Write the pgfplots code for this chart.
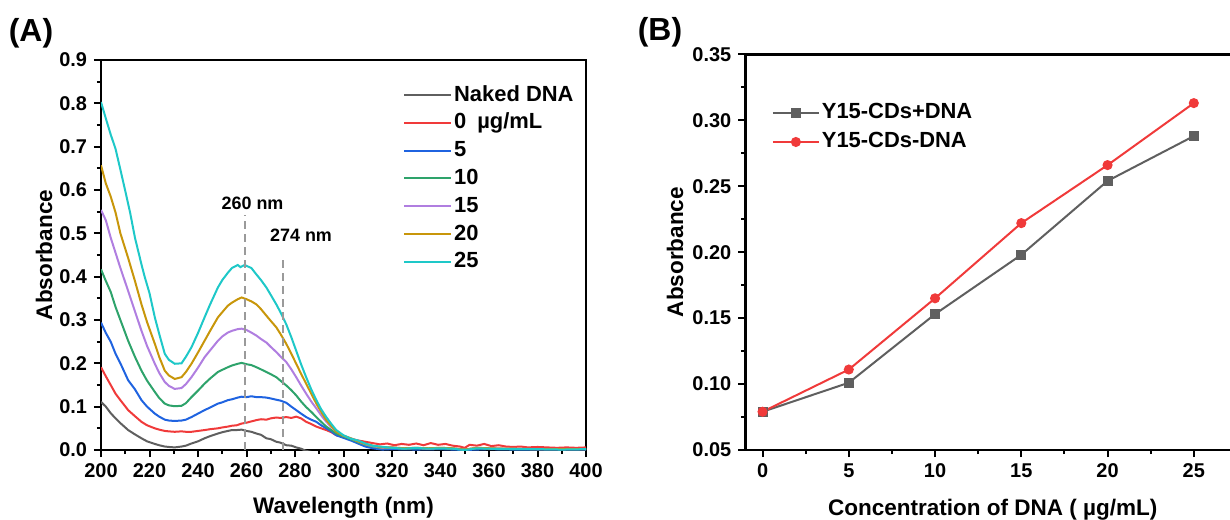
\documentclass[border=0pt]{standalone}
\usepackage{fontspec}
\setmainfont{Liberation Sans}
\usepackage{pgfplots}
\pgfplotsset{compat=1.18}

\definecolor{cGray}{HTML}{5F5F5F}
\definecolor{cRed}{HTML}{F03A3A}
\definecolor{cBlue}{HTML}{1F63E0}
\definecolor{cGreen}{HTML}{2EA36B}
\definecolor{cPurple}{HTML}{B07EE0}
\definecolor{cGold}{HTML}{C8960A}
\definecolor{cCyan}{HTML}{1EC8C8}
\definecolor{cDash}{HTML}{9A9A9A}

\pgfplotsset{
  myax/.style={
    scale only axis,
    axis line style={line width=1.25bp},
    every tick/.style={line width=1bp, black},
    tick align=outside,
    major tick length=3.5bp,
    minor tick length=2bp,
    tick pos=left,
    ticklabel style={font=\fontsize{10}{12}\selectfont\bfseries},
    label style={font=\fontsize{11.3}{13}\selectfont\bfseries},
    /pgf/number format/assume math mode=true,
  },
}

\begin{document}
\begin{tikzpicture}
\path[use as bounding box, clip] (0,0) rectangle (615bp,260bp);

\node[font=\fontsize{16}{18}\selectfont\bfseries] at (15.5bp,243.5bp) {(A)};
\node[font=\fontsize{16}{18}\selectfont\bfseries] at (330bp,244bp) {(B)};

\begin{axis}[myax,
  at={(50.5bp,35bp)}, anchor=south west,
  width=242.5bp, height=195bp,
  xmin=200, xmax=400, ymin=0, ymax=0.9,
  xtick={200,220,240,260,280,300,320,340,360,380,400},
  minor x tick num=1,
  ytick={0,0.1,0.2,0.3,0.4,0.5,0.6,0.7,0.8,0.9},
  minor y tick num=1,
  yticklabel style={/pgf/number format/.cd, fixed, fixed zerofill, precision=1},
  xlabel={Wavelength (nm)}, ylabel={Absorbance},
  xlabel style={at={(axis description cs:0.5,-0.149)}, anchor=center},
  ylabel style={at={(axis description cs:-0.1175,0.5)}, anchor=center},
  legend style={at={(0.623,0.941)}, anchor=north west, draw=none, fill=none,
    inner sep=0pt, outer sep=0pt, row sep=1.9bp,
    font=\fontsize{11}{11}\selectfont\bfseries,
    nodes={inner sep=1bp, text height=8bp, text depth=2bp}},
  legend cell align=left,
  legend image code/.code={\draw[#1] (0bp,0bp) -- (23.5bp,0bp);},
  every axis plot/.append style={line width=1bp},
]
% Naked DNA
\addplot[cGray] coordinates {
(200,0.111)(202,0.100)(204,0.085)(206,0.073)(208,0.062)(211.2,0.046)(214,0.036)(216.7,0.027)(219,0.020)(222.2,0.014)(224,0.011)(226.3,0.008)(228,0.007)(230.4,0.006)(233.2,0.008)(235,0.010)(237.3,0.015)(240,0.020)(242.7,0.027)(245,0.032)(248.2,0.038)(250,0.041)(252.3,0.044)(254,0.046)(255.9,0.046)(258,0.047)(260,0.044)(262,0.042)(264.1,0.038)(266,0.035)(268.2,0.027)(270,0.025)(272.3,0.019)(274,0.017)(276.4,0.011)(278.5,0.010)(280.5,0.006)(282.5,0.003)(284.6,-0.002)(288,-0.006)(292,-0.010)
};
\addlegendentry{Naked DNA}
% 0 ug/mL
\addplot[cRed] coordinates {
(200,0.191)(202,0.170)(204,0.150)(206,0.130)(208,0.115)(211.2,0.092)(214,0.078)(216.7,0.065)(219,0.057)(222.2,0.050)(224,0.047)(226.3,0.044)(228,0.043)(230.4,0.042)(233.2,0.043)(235,0.042)(237.3,0.042)(240,0.044)(242.7,0.046)(245,0.048)(248.2,0.050)(250,0.052)(252.3,0.054)(254,0.056)(255.9,0.057)(258,0.061)(260,0.063)(262,0.066)(264.1,0.069)(266,0.071)(268.2,0.070)(270,0.073)(272.3,0.075)(274,0.074)(276.4,0.076)(278.5,0.074)(280.5,0.077)(282.5,0.073)(284.6,0.065)(286.7,0.060)(288.8,0.054)(290.8,0.050)(292.9,0.046)(295,0.041)(297,0.034)(300,0.030)(303,0.026)(306,0.022)(309,0.019)(312,0.016)(315,0.013)(318,0.015)(321,0.011)(324,0.014)(327,0.012)(330,0.015)(333,0.011)(336,0.016)(339,0.012)(342,0.014)(345,0.010)(348,0.008)(350,0.005)(352,0.012)(355,0.010)(358,0.014)(361,0.009)(364,0.011)(367,0.008)(370,0.007)(373,0.008)(376,0.006)(380,0.007)(384,0.006)(388,0.005)(392,0.006)(396,0.005)(400,0.006)
};
\addlegendentry{0\enspace µg/mL}
% 5
\addplot[cBlue] coordinates {
(200,0.294)(202,0.270)(204,0.250)(206,0.222)(208,0.200)(211.2,0.161)(214,0.140)(216.7,0.115)(219,0.100)(222.2,0.084)(224,0.077)(226.3,0.070)(228,0.068)(230.4,0.067)(233.2,0.068)(235,0.070)(237.3,0.076)(240,0.084)(242.7,0.092)(245,0.098)(248.2,0.107)(250,0.110)(252.3,0.115)(254,0.117)(256.4,0.121)(258,0.123)(260,0.122)(262,0.124)(264.1,0.122)(266,0.122)(268.2,0.121)(270,0.119)(272.3,0.116)(274,0.114)(276.4,0.109)(278.5,0.100)(280.5,0.092)(282.5,0.084)(284.6,0.076)(286.7,0.070)(288.8,0.065)(290.8,0.057)(292.9,0.050)(295,0.043)(297,0.034)(300,0.028)(303,0.022)(306,0.015)(309,0.008)(312,0.004)(316,0.001)(320,0.002)(330,0.001)(340,0.002)(350,0.000)(360,0.002)(370,0.001)(380,0.001)(390,0.001)(400,0.001)
};
\addlegendentry{5}
% 10
\addplot[cGreen] coordinates {
(200,0.417)(202,0.390)(204,0.365)(206,0.330)(208,0.300)(211.2,0.252)(214,0.215)(216.7,0.183)(219,0.160)(222.2,0.134)(224,0.120)(226.3,0.107)(228,0.103)(230.4,0.101)(233.2,0.102)(235,0.108)(237.3,0.122)(240,0.137)(242.7,0.153)(245,0.165)(248.2,0.180)(250,0.185)(252.3,0.191)(254,0.195)(256.4,0.199)(258,0.201)(260,0.198)(262,0.196)(264.1,0.191)(266,0.186)(268.2,0.180)(270,0.175)(272.3,0.168)(274,0.160)(276.4,0.149)(278.5,0.138)(280.5,0.126)(282.5,0.112)(284.6,0.099)(286.7,0.088)(288.8,0.076)(290.8,0.065)(292.9,0.054)(295,0.046)(297,0.038)(300,0.031)(303,0.025)(306,0.018)(309,0.012)(312,0.008)(316,0.004)(320,0.005)(325,0.003)(330,0.004)(335,0.003)(340,0.004)(345,0.003)(350,0.001)(355,0.004)(360,0.003)(365,0.003)(370,0.002)(380,0.002)(390,0.002)(400,0.002)
};
\addlegendentry{10}
% 15
\addplot[cPurple] coordinates {
(200,0.554)(202,0.530)(204,0.490)(206,0.455)(208,0.420)(211.2,0.367)(214,0.320)(216.7,0.275)(219,0.240)(222.2,0.199)(224,0.178)(226.3,0.157)(228,0.148)(230.4,0.141)(233.2,0.143)(235,0.152)(237.3,0.168)(240,0.190)(242.7,0.214)(245,0.230)(248.2,0.252)(250,0.262)(252.3,0.271)(254,0.275)(256.4,0.279)(258,0.280)(260,0.277)(262,0.271)(264.1,0.264)(266,0.256)(268.2,0.248)(270,0.238)(272.3,0.226)(274,0.216)(276.4,0.203)(278.5,0.186)(280.5,0.168)(282.5,0.149)(284.6,0.130)(286.7,0.112)(288.8,0.096)(290.8,0.080)(292.9,0.065)(295,0.053)(297,0.043)(300,0.033)(303,0.027)(306,0.020)(309,0.013)(312,0.009)(316,0.005)(320,0.006)(325,0.004)(330,0.005)(335,0.003)(340,0.005)(345,0.004)(350,0.001)(355,0.005)(360,0.004)(365,0.003)(370,0.003)(380,0.002)(390,0.002)(400,0.002)
};
\addlegendentry{15}
% 20
\addplot[cGold] coordinates {
(200,0.657)(202,0.615)(204,0.585)(206,0.548)(208,0.500)(211.2,0.443)(214,0.390)(216.7,0.336)(219,0.295)(222.2,0.245)(224,0.215)(226.3,0.183)(228,0.172)(230.4,0.164)(233.2,0.168)(235,0.180)(237.3,0.199)(240,0.225)(242.7,0.252)(245,0.275)(248.2,0.306)(250,0.318)(252.3,0.333)(254,0.340)(256.4,0.348)(258,0.352)(260,0.348)(262,0.343)(264.1,0.336)(266,0.325)(268.2,0.310)(270,0.298)(272.3,0.283)(274,0.268)(276.4,0.245)(278.5,0.222)(280.5,0.199)(282.5,0.176)(284.6,0.153)(286.7,0.130)(288.8,0.107)(290.8,0.088)(292.9,0.069)(295,0.055)(297,0.042)(300,0.033)(303,0.027)(306,0.020)(309,0.014)(312,0.010)(316,0.006)(320,0.006)(325,0.004)(330,0.005)(335,0.004)(340,0.005)(345,0.004)(350,0.001)(355,0.005)(360,0.004)(365,0.003)(370,0.003)(380,0.002)(390,0.002)(400,0.002)
};
\addlegendentry{20}
% 25
\addplot[cCyan] coordinates {
(200,0.803)(202,0.765)(204,0.728)(206,0.695)(208,0.647)(210,0.598)(212,0.548)(214,0.490)(216.7,0.428)(218,0.400)(220,0.362)(222.2,0.306)(224,0.268)(226.3,0.222)(228,0.208)(230.4,0.199)(233.2,0.200)(235,0.215)(237.3,0.237)(240,0.270)(242.7,0.306)(245,0.336)(248.2,0.375)(250,0.392)(252.3,0.409)(254,0.420)(256.4,0.427)(257.5,0.422)(259.2,0.427)(262,0.420)(264.1,0.405)(266,0.392)(268.2,0.375)(270,0.358)(272.3,0.336)(274,0.318)(276.4,0.290)(278.5,0.260)(280.5,0.229)(282.5,0.198)(284.6,0.168)(286.7,0.140)(288.8,0.115)(290.8,0.094)(292.9,0.076)(295,0.060)(297,0.046)(300,0.034)(303,0.026)(306,0.022)(309,0.015)(312,0.010)(315,0.008)(320,0.005)(325,0.003)(330,0.005)(335,0.003)(340,0.004)(345,0.003)(350,0.000)(355,0.004)(360,0.003)(365,0.002)(370,0.002)(380,0.002)(390,0.001)(400,0.002)
};
\addlegendentry{25}

\draw[cDash, line width=0.8bp, dash pattern=on 4bp off 2.5bp] (axis cs:259.3,0) -- (axis cs:259.3,0.543);
\draw[cDash, line width=0.8bp, dash pattern=on 4bp off 2.5bp] (axis cs:275.1,0) -- (axis cs:275.1,0.443);
\node[font=\fontsize{9}{10}\selectfont\bfseries] at (axis cs:262.5,0.570) {260 nm};
\node[font=\fontsize{9}{10}\selectfont\bfseries] at (axis cs:282.5,0.495) {274 nm};
\end{axis}

\begin{axis}[myax,
  at={(372.65bp,35bp)}, anchor=south west,
  width=244bp, height=197.85bp,
  xmin=-1, xmax=27.29, ymin=0.05, ymax=0.35,
  xtick={0,5,10,15,20,25},
  minor x tick num=1,
  ytick={0.05,0.10,0.15,0.20,0.25,0.30,0.35},
  minor y tick num=1,
  yticklabel style={/pgf/number format/.cd, fixed, fixed zerofill, precision=2},
  xlabel={Concentration of DNA ( µg/mL)}, ylabel={Absorbance},
  xlabel style={at={(axis description cs:0.507,-0.152)}, anchor=center},
  ylabel style={at={(axis description cs:-0.144,0.5)}, anchor=center},
  legend style={at={(0.0545,0.882)}, anchor=north west, draw=none, fill=none,
    inner sep=0pt, outer sep=0pt, row sep=2.5bp,
    font=\fontsize{11}{11}\selectfont\bfseries,
    nodes={inner sep=1bp, text height=8bp, text depth=2bp}},
  legend cell align=left,
  legend image code/.code={\draw[mark repeat=2, mark phase=2, #1] plot coordinates {(0bp,0bp) (11.5bp,0bp) (23bp,0bp)};},
  every axis plot/.append style={line width=1bp},
]
\addplot[cGray, mark=square*, mark size=2bp, mark options={solid}] coordinates {
(0,0.079)(5,0.101)(10,0.153)(15,0.198)(20,0.254)(25,0.288)
};
\addlegendentry{Y15-CDs+DNA}
\addplot[cRed, mark=*, mark size=2bp, mark options={solid}] coordinates {
(0,0.079)(5,0.111)(10,0.165)(15,0.222)(20,0.266)(25,0.313)
};
\addlegendentry{Y15-CDs-DNA}
\end{axis}
\end{tikzpicture}
\end{document}
